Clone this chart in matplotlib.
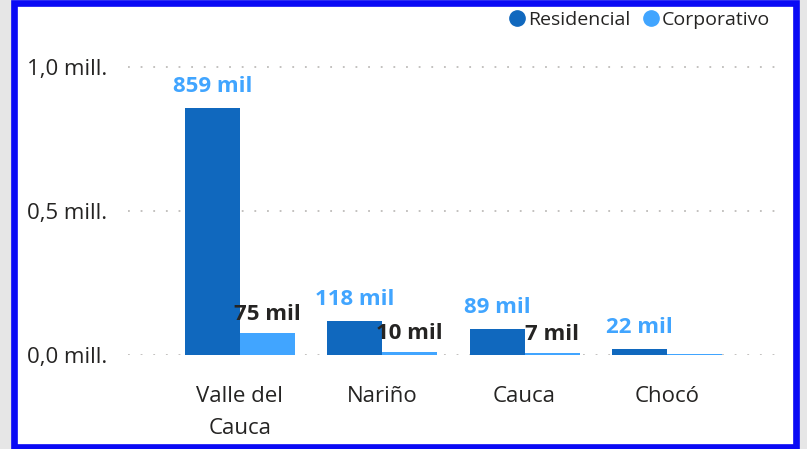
import numpy as np
import matplotlib as mpl
mpl.use("Agg")
from matplotlib import pyplot as plt
from matplotlib.lines import Line2D
from matplotlib.patches import Rectangle
from matplotlib.ticker import FuncFormatter

plt.rcParams['font.family'] = ['Open Sans', 'DejaVu Sans']

# data
departamentos = ["Valle del\nCauca", "Nariño", "Cauca", "Chocó"]
residencial = [859000, 118000, 89000, 22000]
corporativo = [75000, 10000, 7000, 3000]
residencial_labels = ["859 mil", "118 mil", "89 mil", "22 mil"]
corporativo_labels = ["75 mil", "10 mil", "7 mil", ""]
yticks = [0, 500000, 1000000]

c_res = "#1068BE"
c_corp = "#41A5FF"
c_text = "#252423"

fig = plt.figure(figsize=(8.07, 4.49), dpi=100)
fig.patch.set_facecolor("#E6E6E6")
# white card with a blue border
W, H = 807, 449
card = Rectangle((14 / W, 2.5 / H), 782 / W, 444 / H, transform=fig.transFigure,
                 facecolor="white", edgecolor="#0A0AF5", lw=4.8, zorder=-1)
fig.patches.append(card)

ax = fig.add_axes([128 / W, (449 - 355) / H, 650 / W, 300 / H])
ax.set_facecolor("none")

x = np.arange(len(departamentos))
w = 0.386
b1 = ax.bar(x - w / 2, residencial, w, color=c_res, zorder=2, label="Residencial")
b2 = ax.bar(x + w / 2, corporativo, w, color=c_corp, zorder=2, label="Corporativo")

for rect, lab in zip(b1, residencial_labels):
    ax.annotate(lab, (rect.get_x() + rect.get_width() / 2, rect.get_height()),
                xytext=(0, 8), textcoords="offset points", ha="center", va="bottom",
                fontsize=16, fontweight="bold", color=c_corp, zorder=3)
for rect, lab in zip(b2, corporativo_labels):
    if not lab:
        continue
    ax.annotate(lab, (rect.get_x() + rect.get_width() / 2, rect.get_height()),
                xytext=(0, 6), textcoords="offset points", ha="center", va="bottom",
                fontsize=16, fontweight="bold", color=c_text, zorder=3)

ax.set_xlim(-0.786, 3.78)
ax.set_ylim(0, 300 / 287.7 * 1e6)
ax.set_yticks(yticks)
ax.yaxis.set_major_formatter(FuncFormatter(lambda v, p: "{:.1f} mill.".format(v / 1e6).replace(".", ",", 1)))
ax.set_xticks(x)
ax.set_xticklabels(departamentos, linespacing=1.7)
ax.tick_params(axis="y", length=0, pad=15, labelsize=16, labelcolor=c_text)
ax.tick_params(axis="x", length=0, pad=22, labelsize=16, labelcolor=c_text)
ax.grid(axis="y", color="#BEBCBA", lw=1.3, ls=(0, (1, 6)), zorder=1)
ax.set_axisbelow(True)
for s in ax.spines.values():
    s.set_visible(False)

handles = [Line2D([], [], marker="o", ls="none", markersize=11, color=c_res),
           Line2D([], [], marker="o", ls="none", markersize=11, color=c_corp)]
fig.legend(handles, ["Residencial", "Corporativo"], loc="upper right",
           bbox_to_anchor=(780 / W, 1 - 1 / H), ncol=2, frameon=False, borderpad=0,
           handletextpad=0.05, columnspacing=0.6, handlelength=1.0,
           prop={"size": 14}, labelcolor=c_text)

fig.savefig("out.png", dpi=100)
